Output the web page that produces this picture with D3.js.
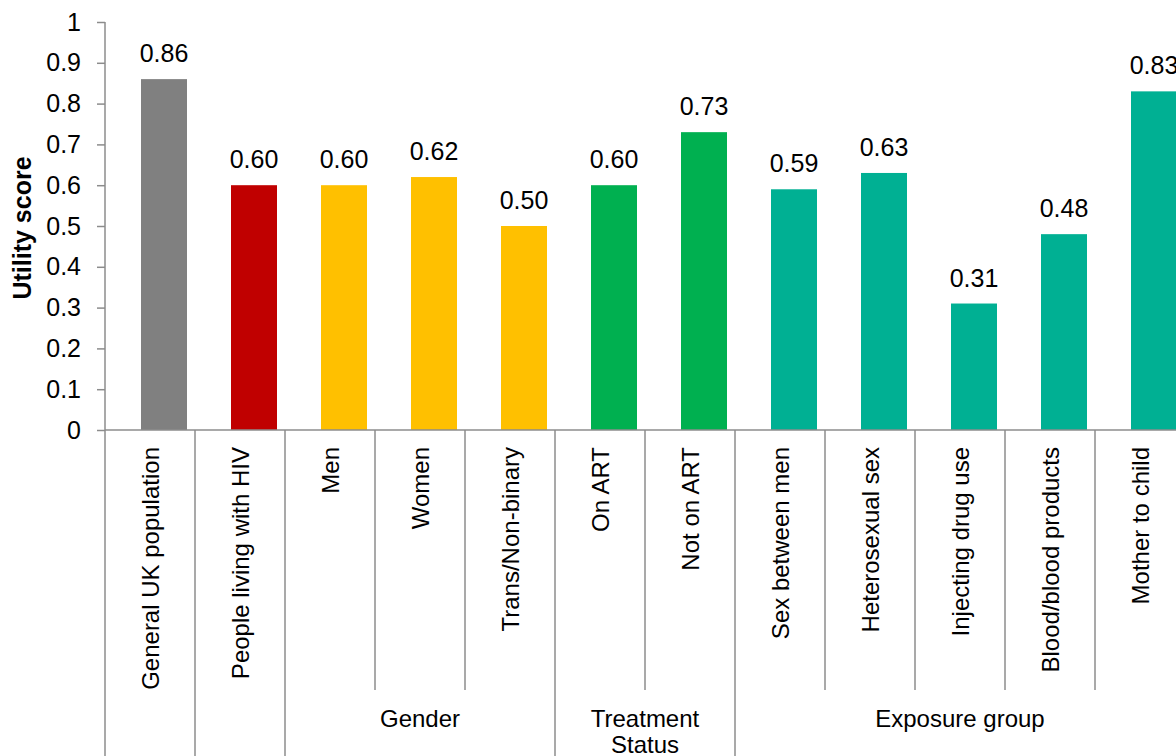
<!DOCTYPE html>
<html>
<head>
<meta charset="utf-8">
<script src="https://cdn.jsdelivr.net/npm/d3@7"></script>
<style>
  html, body { margin: 0; padding: 0; background: #fff; overflow: hidden; }
  svg { display: block; font-family: "Liberation Sans", Arial, sans-serif; }
</style>
</head>
<body>
<div id="chart"></div>
<script>
// Data
const categories = [
  "General UK population", "People living with HIV", "Men", "Women",
  "Trans/Non-binary", "On ART", "Not on ART", "Sex between men",
  "Heterosexual sex", "Injecting drug use", "Blood/blood products", "Mother to child"
];
const values = [0.86, 0.60, 0.60, 0.62, 0.50, 0.60, 0.73, 0.59, 0.63, 0.31, 0.48, 0.83];
const groupOf = [
  null, null, "Gender", "Gender", "Gender", "Treatment Status", "Treatment Status",
  "Exposure group", "Exposure group", "Exposure group", "Exposure group", "Exposure group"
];
const barColors = [
  "#808080", "#c00000", "#ffc000", "#ffc000", "#ffc000", "#00b050", "#00b050",
  "#00b093", "#00b093", "#00b093", "#00b093", "#00b093"
];
const yTicks = d3.range(0, 11).map((i) => i / 10);

const width = 1176, height = 756;
const margin = { top: 22, left: 105 };
const bandW = 90;
const axisY = 430;

const svg = d3.select("#chart").append("svg")
  .attr("width", width).attr("height", height);

// Scales
const x = d3.scaleBand()
  .domain(categories)
  .range([margin.left, margin.left + bandW * categories.length])
  .padding(0);

const y = d3.scaleLinear().domain([0, 1]).range([axisY, margin.top]);

// Bars are shifted right inside each category slot, as in the source
const barOffset = 36, barW = 46;

const axisColor = "#8c8c8c";

// y axis
svg.append("g")
  .attr("transform", `translate(${margin.left},0)`)
  .call(d3.axisLeft(y).tickValues(yTicks).tickFormat((d) => String(d)).tickSize(8).tickPadding(16))
  .call((g) => g.select(".domain").attr("stroke", axisColor).attr("stroke-width", 1.5)
    .attr("d", `M0,${y(1)}V${axisY}`))
  .call((g) => g.selectAll(".tick line").attr("stroke", axisColor).attr("stroke-width", 1.5))
  .call((g) => g.selectAll(".tick text")
    .attr("fill", "#000").style("font-size", "25px")
    .style("font-family", "Liberation Sans, Arial, sans-serif"));

// y axis title
svg.append("text")
  .attr("transform", `translate(22,${(y(0) + y(1)) / 2 + 2}) rotate(-90)`)
  .attr("text-anchor", "middle")
  .attr("dominant-baseline", "central")
  .style("font-size", "25px")
  .style("font-weight", "bold")
  .text("Utility score");

// bars
svg.append("g").selectAll("rect")
  .data(categories)
  .join("rect")
  .attr("x", (d) => x(d) + barOffset)
  .attr("width", barW)
  .attr("y", (d, i) => y(values[i]))
  .attr("height", (d, i) => y(0) - y(values[i]))
  .attr("fill", (d, i) => barColors[i]);

// value labels
svg.append("g").selectAll("text")
  .data(categories)
  .join("text")
  .attr("x", (d) => x(d) + barOffset + barW / 2)
  .attr("y", (d, i) => y(values[i]) - 17)
  .attr("text-anchor", "middle")
  .style("font-size", "25px")
  .text((d, i) => values[i].toFixed(2));

// x axis line
svg.append("line")
  .attr("x1", margin.left).attr("x2", x.range()[1])
  .attr("y1", axisY).attr("y2", axisY)
  .attr("stroke", axisColor).attr("stroke-width", 1.5);

// category separators: long where the group changes, short inside a group
const shortEnd = 690, longEnd = height + 5;
const seps = categories.map((c, i) => {
  const long = i === 0 || groupOf[i] === null || groupOf[i] !== groupOf[i - 1];
  return { xPos: x(c), long };
});
seps.push({ xPos: x.range()[1], long: true });

svg.append("g").selectAll("line")
  .data(seps)
  .join("line")
  .attr("x1", (d) => d.xPos).attr("x2", (d) => d.xPos)
  .attr("y1", axisY).attr("y2", (d) => (d.long ? longEnd : shortEnd))
  .attr("stroke", axisColor).attr("stroke-width", 1.5);

// rotated category labels
svg.append("g").selectAll("text")
  .data(categories)
  .join("text")
  .attr("transform", (d) => `translate(${x(d) + x.bandwidth() / 2},447) rotate(-90)`)
  .attr("text-anchor", "end")
  .attr("dominant-baseline", "central")
  .style("font-size", "24px")
  .text((d) => d);

// group labels
const groups = d3.groups(categories.map((c, i) => ({ c, g: groupOf[i] })), (d) => d.g)
  .filter(([g]) => g !== null)
  .map(([g, items]) => ({
    name: g,
    x0: x(items[0].c),
    x1: x(items[items.length - 1].c) + x.bandwidth()
  }));

const groupLines = { "Treatment Status": ["Treatment", "Status"] };

const gl = svg.append("g").selectAll("text")
  .data(groups)
  .join("text")
  .attr("x", (d) => (d.x0 + d.x1) / 2)
  .attr("y", 727)
  .attr("text-anchor", "middle")
  .style("font-size", "24px");

gl.selectAll("tspan")
  .data((d) => (groupLines[d.name] || [d.name]).map((t) => ({ t, cx: (d.x0 + d.x1) / 2 })))
  .join("tspan")
  .attr("x", (d) => d.cx)
  .attr("dy", (d, i) => (i === 0 ? 0 : 26))
  .text((d) => d.t);
</script>
</body>
</html>
